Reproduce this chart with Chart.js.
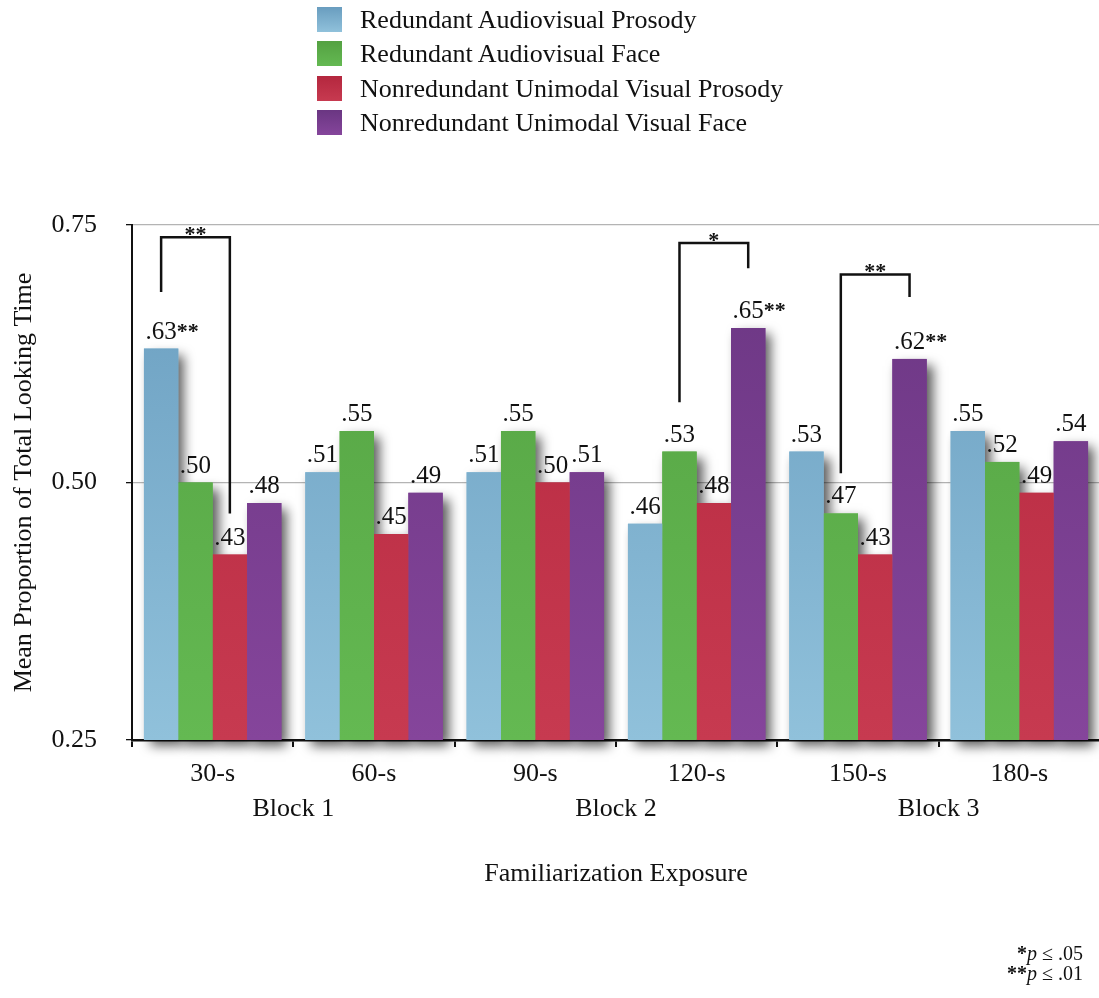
<!DOCTYPE html>
<html lang="en">
<head>
<meta charset="UTF-8">
<title>Mean Proportion of Total Looking Time</title>
<script src="https://cdn.jsdelivr.net/npm/chart.js"></script>
<style>
    html, body {
        margin: 0;
        padding: 0;
        background: #fff;
        overflow: hidden;
        font-family: "Liberation Serif", "DejaVu Serif", serif;
    }
    #wrap {
        position: relative;
        width: 1099px;
        height: 998px;
        overflow: hidden;
    }
    #chart {
        position: absolute;
        left: 0;
        top: 0;
    }
    /* legend is drawn as a column, like the original */
    .legend {
        position: absolute;
        left: 317px;
        top: 7px;
        margin: 0;
        padding: 0;
        list-style: none;
    }
    .legend li {
        position: relative;
        height: 34.3px;
        font-size: 26px;
        line-height: 25px;
        color: #111;
        padding-left: 43px;
        white-space: nowrap;
    }
    .legend .box {
        position: absolute;
        left: 0;
        top: 0;
        width: 25px;
        height: 25px;
    }
    .note {
        position: absolute;
        right: 16px;
        top: 943px;
        text-align: right;
        font-size: 20px;
        line-height: 20px;
        color: #111;
    }
    .note i { font-style: italic; }
</style>
</head>
<body>
<div id="wrap">
    <canvas id="chart" width="1101" height="998"></canvas>
    <ul class="legend" id="legend"></ul>
    <div class="note">
        <b>*</b><i>p</i> ≤ .05<br>
        <b>**</b><i>p</i> ≤ .01
    </div>
</div>
<script>
    // données
    const categories = ['30-s', '60-s', '90-s', '120-s', '150-s', '180-s'];
    const blocks = ['Block 1', 'Block 2', 'Block 3'];
    const seriesNames = [
        'Redundant Audiovisual Prosody',
        'Redundant Audiovisual Face',
        'Nonredundant Unimodal Visual Prosody',
        'Nonredundant Unimodal Visual Face'
    ];
    const avProsody  = [0.63, 0.51, 0.51, 0.46, 0.53, 0.55];
    const avFace     = [0.50, 0.55, 0.55, 0.53, 0.47, 0.52];
    const uniProsody = [0.43, 0.45, 0.50, 0.48, 0.43, 0.49];
    const uniFace    = [0.48, 0.49, 0.51, 0.65, 0.62, 0.54];
    const yTicks = [0.25, 0.50, 0.75];

    // significance stars written after some bar values
    const avProsodyStars  = ['**', '', '', '', '', ''];
    const avFaceStars     = ['', '', '', '', '', ''];
    const uniProsodyStars = ['', '', '', '', '', ''];
    const uniFaceStars    = ['', '', '', '**', '**', ''];

    // comparison brackets: category, left series, right series, leg ends (values)
    const bracketCats   = [0, 3, 4];
    const bracketFrom   = [0, 1, 1];
    const bracketTo     = [2, 3, 3];
    const bracketLeftY  = [0.685, 0.578, 0.509];
    const bracketTopY   = [0.738, 0.7325, 0.702];
    const bracketRightY = [0.470, 0.708, 0.680];
    const bracketMarks  = ['**', '*', '**'];

    const seriesValues = [avProsody, avFace, uniProsody, uniFace];
    const seriesStars = [avProsodyStars, avFaceStars, uniProsodyStars, uniFaceStars];

    // colours (top, bottom of each bar)
    const colours = [
        ['#699dbf', '#90c1db'],
        ['#54a142', '#64b952'],
        ['#b4273e', '#c73a50'],
        ['#6a3682', '#85459b']
    ];
    const serif = '"Liberation Serif", "DejaVu Serif", serif';
    const font26 = { family: serif, size: 26 };

    // legend
    const legend = document.getElementById('legend');
    seriesNames.forEach((name, i) => {
        const li = document.createElement('li');
        li.innerHTML = '<span class="box" style="background:linear-gradient(' +
            colours[i][0] + ',' + colours[i][1] + ')"></span>' + name;
        legend.appendChild(li);
    });

    function barFill(i) {
        return function (context) {
            const chart = context.chart;
            const area = chart.chartArea;
            if (!area) return colours[i][0];
            const g = chart.ctx.createLinearGradient(0, area.top, 0, area.bottom);
            g.addColorStop(0, colours[i][0]);
            g.addColorStop(1, colours[i][1]);
            return g;
        };
    }

    // ombre portée sous les barres
    const shadowPlugin = {
        id: 'barShadow',
        beforeDatasetsDraw(chart) {
            const c = chart.ctx;
            const bottom = chart.chartArea.bottom;
            c.save();
            c.shadowColor = 'rgba(0,0,0,0.65)';
            c.shadowBlur = 11;
            c.shadowOffsetX = 6;
            c.shadowOffsetY = 6;
            chart.data.datasets.forEach((ds, i) => {
                c.fillStyle = colours[i][1];
                chart.getDatasetMeta(i).data.forEach(bar => {
                    const p = bar.getProps(['x', 'y', 'width', 'base'], true);
                    c.fillRect(p.x - p.width / 2, p.y, p.width, Math.min(p.base, bottom) - p.y);
                });
            });
            c.restore();
        }
    };

    // valeurs au-dessus des barres
    const valuePlugin = {
        id: 'barValues',
        afterDatasetsDraw(chart) {
            const c = chart.ctx;
            c.save();
            c.font = '25px ' + serif;
            c.fillStyle = '#111';
            c.textBaseline = 'alphabetic';
            chart.data.datasets.forEach((ds, i) => {
                chart.getDatasetMeta(i).data.forEach((bar, j) => {
                    const txt = ds.data[j].toFixed(2).replace(/^0/, '');
                    const w = c.measureText(txt).width;
                    const y = bar.y - 10;
                    c.textAlign = 'center';
                    c.fillText(txt, bar.x, y);
                    if (seriesStars[i][j]) {
                        c.textAlign = 'left';
                        c.font = 'bold 22px ' + serif;
                        c.fillText(seriesStars[i][j], bar.x + w / 2, y - 1);
                        c.font = '25px ' + serif;
                    }
                });
            });
            c.restore();
        }
    };

    // crochets de comparaison
    const bracketPlugin = {
        id: 'brackets',
        afterDatasetsDraw(chart) {
            const c = chart.ctx;
            const ys = chart.scales.y;
            c.save();
            c.strokeStyle = '#111';
            c.lineWidth = 2.5;
            c.lineJoin = 'miter';
            c.font = 'bold 22px ' + serif;
            c.fillStyle = '#111';
            c.textAlign = 'center';
            c.textBaseline = 'alphabetic';
            bracketCats.forEach((cat, k) => {
                const x1 = chart.getDatasetMeta(bracketFrom[k]).data[cat].x;
                const x2 = chart.getDatasetMeta(bracketTo[k]).data[cat].x;
                const yTop = ys.getPixelForValue(bracketTopY[k]);
                c.beginPath();
                c.moveTo(x1, ys.getPixelForValue(bracketLeftY[k]));
                c.lineTo(x1, yTop);
                c.lineTo(x2, yTop);
                c.lineTo(x2, ys.getPixelForValue(bracketRightY[k]));
                c.stroke();
                c.fillText(bracketMarks[k], (x1 + x2) / 2, yTop + 4);
            });
            c.restore();
        }
    };

    new Chart(document.getElementById('chart'), {
        type: 'bar',
        data: {
            labels: categories,
            datasets: seriesValues.map((vals, i) => ({
                label: seriesNames[i],
                data: vals,
                backgroundColor: barFill(i),
                borderWidth: 0,
                categoryPercentage: 0.852,
                barPercentage: 1.0
            }))
        },
        options: {
            responsive: false,
            animation: false,
            devicePixelRatio: 1,
            layout: { padding: { top: 225, left: 0, right: 1, bottom: 108 } },
            plugins: {
                legend: { display: false },
                tooltip: { enabled: false }
            },
            scales: {
                x: {
                    position: 'bottom',
                    z: 1,
                    offset: true,
                    grid: { offset: true, drawOnChartArea: false, tickLength: 7, tickColor: '#111', lineWidth: 2 },
                    border: { color: '#111', width: 2.5 },
                    ticks: { font: font26, color: '#111', padding: 12, maxRotation: 0 },
                    afterFit: s => { s.height = 50; }
                },
                blocks: {
                    type: 'category',
                    labels: blocks,
                    position: 'bottom',
                    offset: true,
                    grid: { display: false, drawTicks: false },
                    border: { display: false },
                    ticks: { font: font26, color: '#111', padding: 4, maxRotation: 0 },
                    title: { display: true, text: 'Familiarization Exposure', font: font26, color: '#111', padding: { top: 0, bottom: 0 } },
                    afterFit: s => { s.height = 100; }
                },
                y: {
                    min: 0.25,
                    max: 0.75,
                    afterBuildTicks: s => { s.ticks = yTicks.map(v => ({ value: v })); },
                    ticks: { font: font26, color: '#111', padding: 29, callback: v => v.toFixed(2) },
                    grid: { color: '#b4b4b4', tickColor: '#111', tickLength: 6, lineWidth: 1.3 },
                    border: { color: '#111', width: 2 },
                    title: { display: true, text: 'Mean Proportion of Total Looking Time', font: font26, color: '#111', padding: { top: 9, bottom: 0 } },
                    afterFit: s => { s.width = 132; }
                }
            }
        },
        plugins: [shadowPlugin, valuePlugin, bracketPlugin]
    });
</script>
</body>
</html>
